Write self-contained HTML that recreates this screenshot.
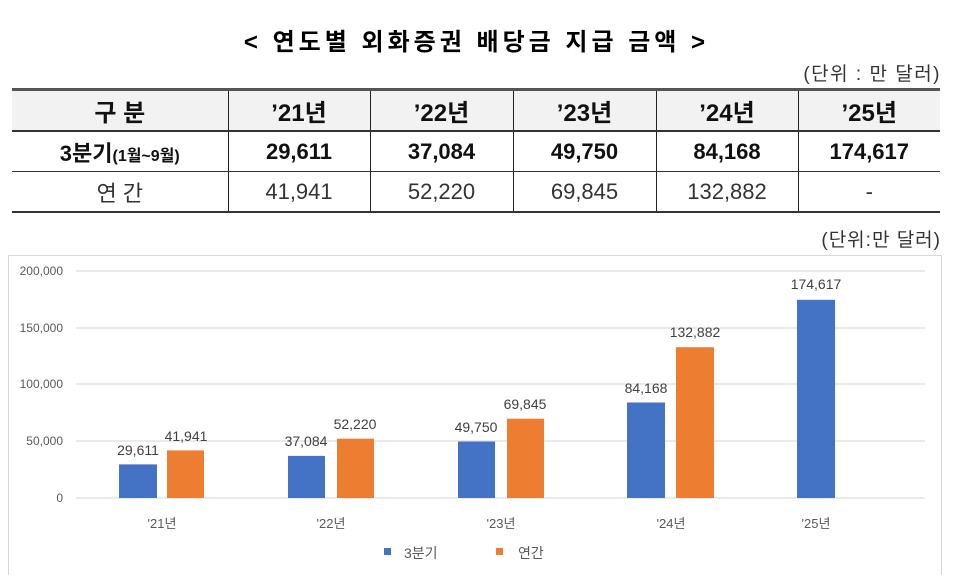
<!DOCTYPE html>
<html><head><meta charset="utf-8"><style>
body{margin:0;width:953px;height:575px;background:#fff;font-family:"Liberation Sans","Noto Sans CJK KR",sans-serif;position:relative;overflow:hidden}
.t{position:absolute;white-space:nowrap}
table{position:absolute;left:12px;top:88px;width:928px;border-collapse:collapse;table-layout:fixed}
td{height:39px;text-align:center;font-size:22px;padding:0;border-left:1px solid #222;color:#111}
td:first-child{border-left:none}
tr.h td{background:#f2f2f2;font-weight:bold;font-size:24px;border-top:3px solid #555;border-bottom:2px solid #333}
tr.b td{font-weight:bold;border-bottom:1px solid #333}
tr.c td{border-bottom:2px solid #333;color:#333}
</style></head><body>
<div class="t" style="left:0;width:953px;text-align:center;top:22px;font-size:24px;font-weight:bold;letter-spacing:4px">&lt; 연도별 외화증권 배당금 지급 금액 &gt;</div>
<div class="t" style="right:12px;top:59px;font-size:19px;color:#333;letter-spacing:1.5px">(단위 : 만 달러)</div>
<table>
<colgroup><col style="width:216px"><col style="width:142px"><col style="width:143px"><col style="width:143px"><col style="width:142px"><col></colgroup>
<tr class="h"><td>구 분</td><td>’21년</td><td>’22년</td><td>’23년</td><td>’24년</td><td>’25년</td></tr>
<tr class="b"><td>3분기<span style="font-size:16px">(1월~9월)</span></td><td>29,611</td><td>37,084</td><td>49,750</td><td>84,168</td><td>174,617</td></tr>
<tr class="c"><td>연 간</td><td>41,941</td><td>52,220</td><td>69,845</td><td>132,882</td><td>-</td></tr>
</table>
<div class="t" style="right:12px;top:225px;font-size:19px;color:#333;letter-spacing:1px">(단위:만 달러)</div>
<svg style="position:absolute;left:0;top:0" width="953" height="575" font-family="Liberation Sans, Noto Sans CJK KR, sans-serif">
<rect x="8.5" y="255.5" width="933" height="330" fill="none" stroke="#d9d9d9"/>
<g stroke="#e4e4e4" stroke-width="1.5">
<line x1="76" x2="925" y1="271" y2="271"/><line x1="76" x2="925" y1="328" y2="328"/><line x1="76" x2="925" y1="384" y2="384"/><line x1="76" x2="925" y1="441" y2="441"/><line x1="76" x2="925" y1="498" y2="498"/>
</g>
<g font-size="12" fill="#595959" text-anchor="end">
<text x="63" y="275">200,000</text><text x="63" y="332">150,000</text><text x="63" y="388">100,000</text><text x="63" y="445">50,000</text><text x="63" y="502">0</text>
</g>
<g fill="#4472c4">
<rect x="119" y="464.4" width="38" height="33.6"/><rect x="288" y="455.9" width="37" height="42.1"/><rect x="458" y="441.5" width="37" height="56.5"/><rect x="627" y="402.5" width="38" height="95.5"/><rect x="797" y="299.8" width="38" height="198.2"/>
</g>
<g fill="#ed7d31">
<rect x="167" y="450.4" width="37" height="47.6"/><rect x="337" y="438.7" width="37" height="59.3"/><rect x="507" y="418.7" width="37" height="79.3"/><rect x="676" y="347.2" width="38" height="150.8"/>
</g>
<g font-size="14" fill="#404040" text-anchor="middle">
<text x="138" y="455">29,611</text><text x="186" y="441">41,941</text>
<text x="306" y="446">37,084</text><text x="355" y="429">52,220</text>
<text x="476" y="432">49,750</text><text x="525" y="409">69,845</text>
<text x="646" y="393">84,168</text><text x="695" y="337">132,882</text>
<text x="816" y="289">174,617</text>
</g>
<g font-size="13" fill="#595959" text-anchor="middle">
<text x="162" y="528">'21년</text><text x="331" y="528">'22년</text><text x="501" y="528">'23년</text><text x="671" y="528">'24년</text><text x="816" y="528">'25년</text>
</g>
<rect x="384" y="548" width="7" height="7" fill="#4472c4"/>
<text x="404" y="558" font-size="14" fill="#595959">3분기</text>
<rect x="496" y="548" width="7" height="7" fill="#ed7d31"/>
<text x="518" y="558" font-size="14" fill="#595959">연간</text>
</svg>
</body></html>
